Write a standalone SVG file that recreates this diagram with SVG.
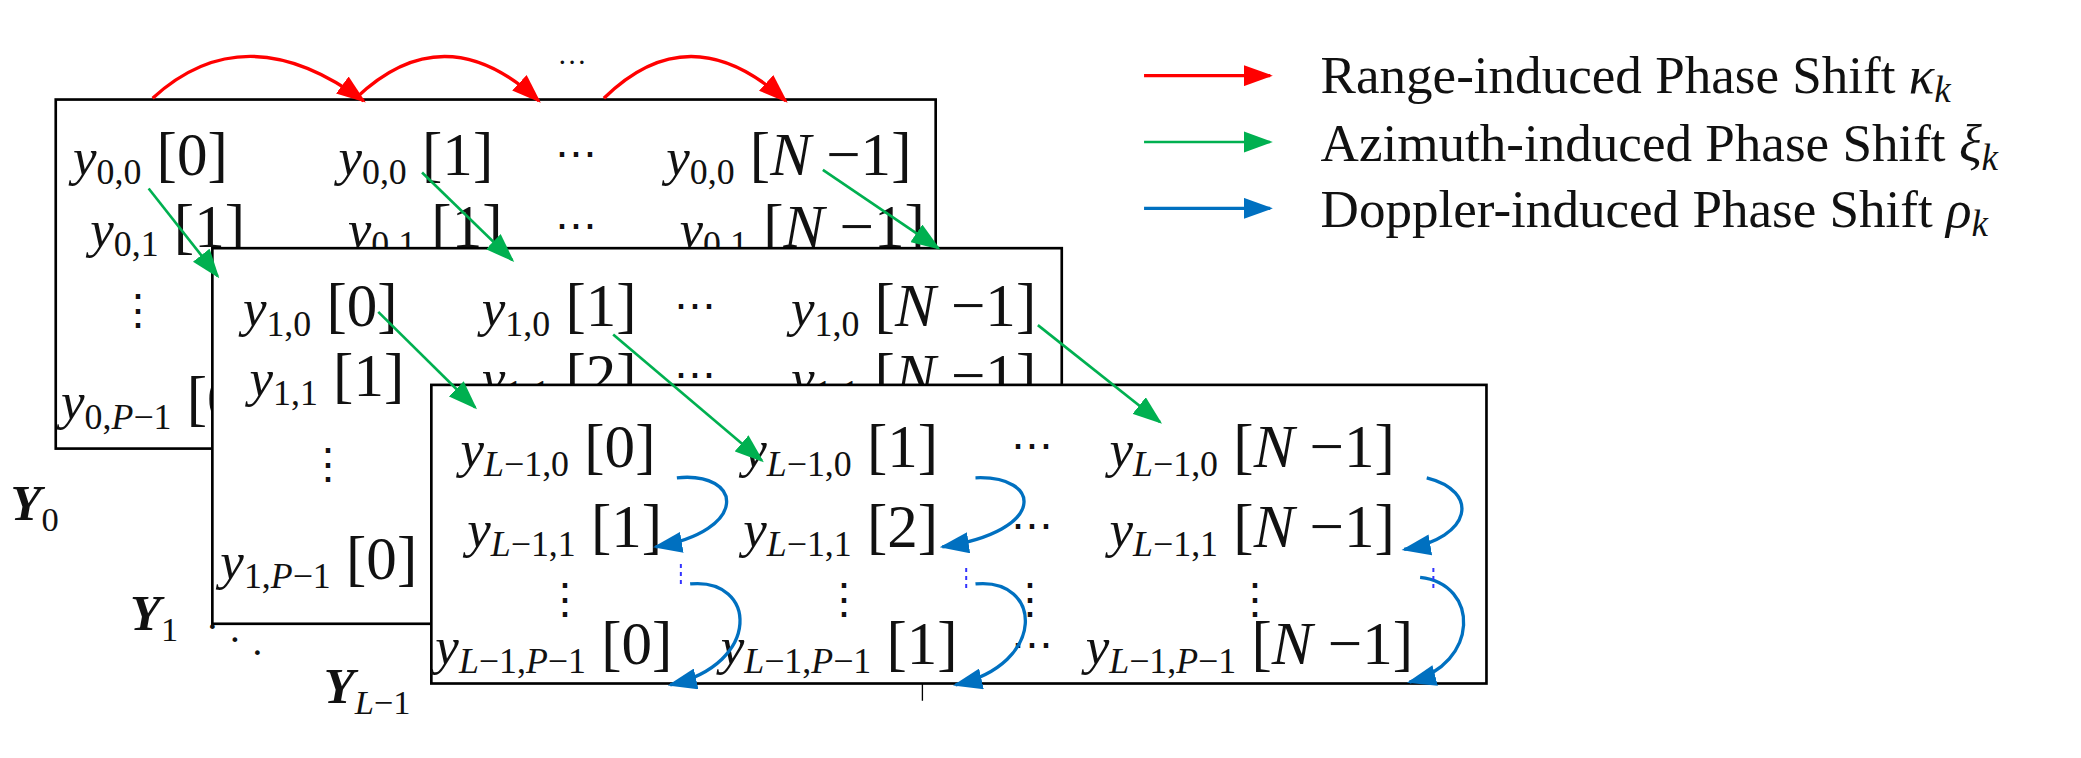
<svg xmlns="http://www.w3.org/2000/svg" width="2081" height="758" viewBox="0 0 2081 758">
<style>
text{font-family:"Liberation Serif","Times New Roman",serif;fill:#111}
.v{font-style:italic;font-size:40px}
.si{font-size:27px;font-style:italic}
.u{font-style:normal;font-size:27px}
.b{font-style:normal;font-size:46px}
.d{font-size:32px;font-style:normal}
.box{fill:#fff;stroke:#000;stroke-width:2}
.r{fill:none;stroke:#f00;stroke-width:2.5}
.g{fill:none;stroke:#00b050;stroke-width:2}
.bl{fill:none;stroke:#0070c0;stroke-width:2.5}
.leg{font-size:40px}
</style>
<defs>
<marker id="mr" markerWidth="22" markerHeight="16" refX="20" refY="8" orient="auto" markerUnits="userSpaceOnUse" viewBox="0 0 22 16"><path d="M0,0L22,8L0,16z" fill="#f00"/></marker>
<marker id="mg" markerWidth="22" markerHeight="16" refX="20" refY="8" orient="auto" markerUnits="userSpaceOnUse" viewBox="0 0 22 16"><path d="M0,0L22,8L0,16z" fill="#00b050"/></marker>
<marker id="mb" markerWidth="22" markerHeight="16" refX="20" refY="8" orient="auto" markerUnits="userSpaceOnUse" viewBox="0 0 22 16"><path d="M0,0L22,8L0,16z" fill="#0070c0"/></marker>
</defs>
<g transform="scale(1.3272)">
<g id="box0">
<rect class="box" x="42" y="75" width="663" height="263"/>
<text class="v" x="55" y="132">y<tspan class="u" dy="7">0,0</tspan><tspan class="b" dy="-7"> [0]</tspan></text>
<text class="v" x="255" y="132">y<tspan class="u" dy="7">0,0</tspan><tspan class="b" dy="-7"> [1]</tspan></text>
<text class="d" x="418" y="126">⋯</text>
<text class="v" x="502" y="132">y<tspan class="u" dy="7">0,0</tspan><tspan class="b" dy="-7"> [<tspan font-style="italic">N</tspan> −1]</tspan></text>
<text class="v" x="68" y="186">y<tspan class="u" dy="7">0,1</tspan><tspan class="b" dy="-7"> [1]</tspan></text>
<text class="v" x="262" y="186">y<tspan class="u" dy="7">0,1</tspan><tspan class="b" dy="-7"> [1]</tspan></text>
<text class="d" x="418" y="180">⋯</text>
<text class="v" x="512" y="186">y<tspan class="u" dy="7">0,1</tspan><tspan class="b" dy="-7"> [<tspan font-style="italic">N</tspan> −1]</tspan></text>
<text class="d" x="88" y="244">⋮</text>
<text class="v" x="46" y="316">y<tspan class="u" dy="7">0,<tspan font-style="italic">P</tspan>−1</tspan><tspan class="b" dy="-7"> [0]</tspan></text>
</g>
<g id="box1">
<rect class="box" x="160" y="187" width="640" height="283"/>
<text class="v" x="183" y="246">y<tspan class="u" dy="7">1,0</tspan><tspan class="b" dy="-7"> [0]</tspan></text>
<text class="v" x="363" y="246">y<tspan class="u" dy="7">1,0</tspan><tspan class="b" dy="-7"> [1]</tspan></text>
<text class="d" x="508" y="240">⋯</text>
<text class="v" x="596" y="246">y<tspan class="u" dy="7">1,0</tspan><tspan class="b" dy="-7"> [<tspan font-style="italic">N</tspan> −1]</tspan></text>
<text class="v" x="188" y="298">y<tspan class="u" dy="7">1,1</tspan><tspan class="b" dy="-7"> [1]</tspan></text>
<text class="v" x="363" y="298">y<tspan class="u" dy="7">1,1</tspan><tspan class="b" dy="-7"> [2]</tspan></text>
<text class="d" x="508" y="292">⋯</text>
<text class="v" x="596" y="298">y<tspan class="u" dy="7">1,1</tspan><tspan class="b" dy="-7"> [<tspan font-style="italic">N</tspan> −1]</tspan></text>
<text class="d" x="231" y="360">⋮</text>
<text class="v" x="166" y="436">y<tspan class="u" dy="7">1,<tspan font-style="italic">P</tspan>−1</tspan><tspan class="b" dy="-7"> [0]</tspan></text>
</g>
<g id="box2">
<rect class="box" x="325" y="290" width="795" height="225"/>
<text class="v" x="347" y="352">y<tspan class="si" dy="7">L</tspan><tspan class="u">−1,0</tspan><tspan class="b" dy="-7"> [0]</tspan></text>
<text class="v" x="560" y="352">y<tspan class="si" dy="7">L</tspan><tspan class="u">−1,0</tspan><tspan class="b" dy="-7"> [1]</tspan></text>
<text class="d" x="762" y="346">⋯</text>
<text class="v" x="836" y="352">y<tspan class="si" dy="7">L</tspan><tspan class="u">−1,0</tspan><tspan class="b" dy="-7"> [<tspan font-style="italic">N</tspan> −1]</tspan></text>
<text class="v" x="352" y="412">y<tspan class="si" dy="7">L</tspan><tspan class="u">−1,1</tspan><tspan class="b" dy="-7"> [1]</tspan></text>
<text class="v" x="560" y="412">y<tspan class="si" dy="7">L</tspan><tspan class="u">−1,1</tspan><tspan class="b" dy="-7"> [2]</tspan></text>
<text class="d" x="762" y="406">⋯</text>
<text class="v" x="836" y="412">y<tspan class="si" dy="7">L</tspan><tspan class="u">−1,1</tspan><tspan class="b" dy="-7"> [<tspan font-style="italic">N</tspan> −1]</tspan></text>
<text class="d" x="410" y="462">⋮</text>
<text class="d" x="620" y="462">⋮</text>
<text class="d" x="760" y="462">⋮</text>
<text class="d" x="930" y="462">⋮</text>
<text class="v" x="328" y="500">y<tspan class="si" dy="7">L</tspan><tspan class="u">−1,</tspan><tspan class="si">P</tspan><tspan class="u">−1</tspan><tspan class="b" dy="-7"> [0]</tspan></text>
<text class="v" x="543" y="500">y<tspan class="si" dy="7">L</tspan><tspan class="u">−1,</tspan><tspan class="si">P</tspan><tspan class="u">−1</tspan><tspan class="b" dy="-7"> [1]</tspan></text>
<text class="d" x="762" y="496">⋯</text>
<text class="v" x="818" y="500">y<tspan class="si" dy="7">L</tspan><tspan class="u">−1,</tspan><tspan class="si">P</tspan><tspan class="u">−1</tspan><tspan class="b" dy="-7"> [<tspan font-style="italic">N</tspan> −1]</tspan></text>
<line x1="695" y1="515" x2="695" y2="528" stroke="#000" stroke-width="1"/>
</g>
<g id="labels">
<text x="8" y="392" font-size="38" font-weight="bold" font-style="italic">Y<tspan font-size="26" font-weight="normal" font-style="normal" dy="8">0</tspan></text>
<text x="98" y="475" font-size="38" font-weight="bold" font-style="italic">Y<tspan font-size="26" font-weight="normal" font-style="normal" dy="8">1</tspan></text>
<text x="155" y="482" font-size="30">·</text><text x="172" y="492" font-size="30">·</text><text x="189" y="502" font-size="30">·</text>
<text x="244" y="530" font-size="38" font-weight="bold" font-style="italic">Y<tspan font-size="26" font-weight="normal" dy="8">L</tspan><tspan font-size="26" font-weight="normal" font-style="normal">−1</tspan></text>
<text x="420" y="48" font-size="22">…</text>
</g>
<g id="connectors">
<path class="r" d="M115,74 Q185,10 274,76" marker-end="url(#mr)"/>
<path class="r" d="M268,74 Q335,10 406,76" marker-end="url(#mr)"/>
<path class="r" d="M455,74 Q520,10 592,76" marker-end="url(#mr)"/>
<path class="g" d="M112,142 L164,208" marker-end="url(#mg)"/>
<path class="g" d="M318,130 L386,196" marker-end="url(#mg)"/>
<path class="g" d="M620,128 L707,187" marker-end="url(#mg)"/>
<path class="g" d="M285,235 L358,307" marker-end="url(#mg)"/>
<path class="g" d="M462,252 L574,347" marker-end="url(#mg)"/>
<path class="g" d="M782,245 L874,318" marker-end="url(#mg)"/>
<path class="bl" d="M510,360 C560,355 565,400 494,412" marker-end="url(#mb)"/>
<path class="bl" d="M735,360 C785,358 790,400 710,412" marker-end="url(#mb)"/>
<path class="bl" d="M1075,360 C1115,370 1110,405 1058,414" marker-end="url(#mb)"/>
<path class="bl" d="M520,440 C570,435 575,500 505,516" marker-end="url(#mb)"/>
<path class="bl" d="M735,440 C785,435 790,500 720,516" marker-end="url(#mb)"/>
<path class="bl" d="M1070,435 C1115,440 1115,500 1062,514" marker-end="url(#mb)"/>
<line x1="513" y1="425" x2="513" y2="440" stroke="#33f" stroke-width="1.5" stroke-dasharray="3,3"/>
<line x1="728" y1="428" x2="728" y2="443" stroke="#33f" stroke-width="1.5" stroke-dasharray="3,3"/>
<line x1="1080" y1="428" x2="1080" y2="443" stroke="#33f" stroke-width="1.5" stroke-dasharray="3,3"/>
</g>
<g id="legend">
<path class="r" d="M862,57 L957,57" marker-end="url(#mr)"/>
<path class="g" d="M862,107 L957,107" marker-end="url(#mg)"/>
<path class="bl" d="M862,157 L957,157" marker-end="url(#mb)"/>
<text class="leg" x="995" y="70">Range-induced Phase Shift <tspan font-style="italic">κ<tspan font-size="28" dy="7">k</tspan></tspan></text>
<text class="leg" x="995" y="121">Azimuth-induced Phase Shift <tspan font-style="italic">ξ<tspan font-size="28" dy="7">k</tspan></tspan></text>
<text class="leg" x="995" y="171">Doppler-induced Phase Shift <tspan font-style="italic">ρ<tspan font-size="28" dy="7">k</tspan></tspan></text>
</g>
</g>
</svg>
